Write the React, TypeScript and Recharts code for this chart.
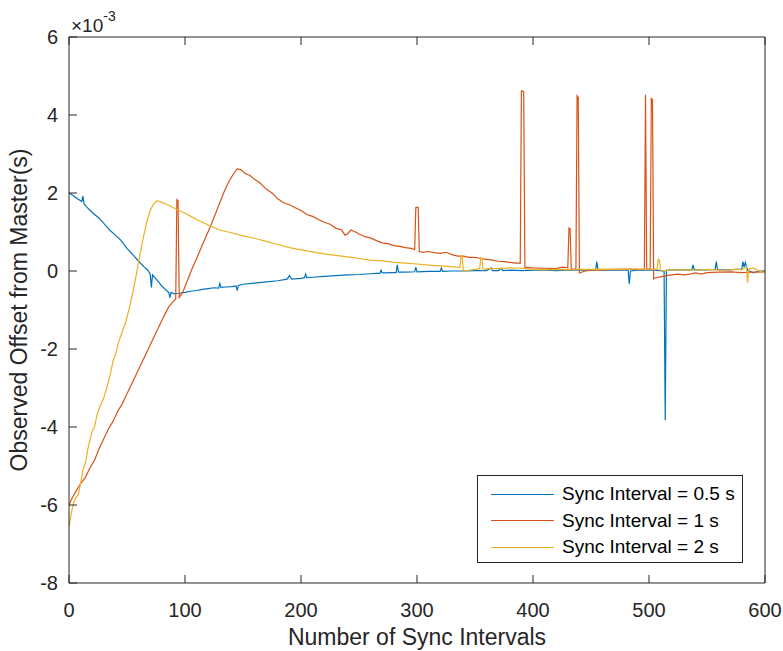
import React from 'react';
import { LineChart, Line, XAxis, YAxis, Legend } from 'recharts';

// x positions (sync interval index) and offsets (x 10^-3 s)
const blueX = [0,3,6,9,11,12,13,16,20,25,30,35,40,45,50,55,60,65,68,70,71,72,75,80,84,86,87,88,90,95,100,105,110,115,120,125,129,130,131,135,140,144,145,146,150,160,170,180,188,190,192,200,203,204,205,210,220,230,240,250,260,265,268,269,270,280,282,283,284,290,298,299,300,310,320,321,322,330,340,350,360,364,365,370,373,374,380,390,400,410,420,430,440,450,454,455,456,460,470,480,482,483,484,490,500,505,510,513,514,515,520,530,537,538,539,545,550,557,558,559,565,570,575,580,581,582,583,585,590,595,600];
const blueY = [2.0,1.95,1.88,1.82,1.78,1.92,1.72,1.62,1.5,1.38,1.22,1.05,0.92,0.78,0.58,0.42,0.25,0.1,0.02,-0.08,-0.42,-0.1,-0.2,-0.38,-0.5,-0.55,-0.68,-0.55,-0.58,-0.57,-0.55,-0.52,-0.5,-0.47,-0.45,-0.43,-0.44,-0.32,-0.42,-0.41,-0.4,-0.38,-0.5,-0.37,-0.34,-0.31,-0.28,-0.25,-0.21,-0.12,-0.21,-0.19,-0.17,-0.08,-0.17,-0.16,-0.14,-0.12,-0.1,-0.09,-0.07,-0.06,-0.06,0.02,-0.05,-0.04,-0.04,0.16,-0.03,-0.03,-0.02,0.1,-0.02,-0.01,-0.01,0.08,-0.01,0.0,0.0,0.01,0.01,0.08,0.01,0.01,0.07,0.01,0.02,0.01,0.02,0.02,0.01,0.02,0.02,0.02,0.02,0.24,0.03,0.02,0.02,0.02,0.02,-0.33,0.0,0.02,0.02,0.02,0.01,0.0,-3.83,0.02,0.03,0.03,0.03,0.16,0.03,0.03,0.03,0.04,0.24,0.04,0.03,0.03,0.04,0.04,0.24,0.1,0.22,0.02,-0.05,0.0,0.0];

const orangeX = [0,3,6,10,14,18,22,26,30,34,38,42,46,50,54,58,62,66,70,74,78,82,86,90,92,93,94,95,98,102,106,110,114,118,122,126,130,134,138,142,145,148,152,156,160,165,170,175,180,185,190,195,200,205,210,215,220,225,230,235,238,240,243,247,250,255,260,265,270,275,280,285,290,295,298,299,301,302,305,310,315,320,325,330,335,340,345,350,355,360,365,370,375,380,385,389,390,392,393,400,410,420,425,430,431,432,433,437,438,439,440,445,450,460,470,480,490,496,497,498,501,502,503,504,505,510,515,520,525,530,535,540,545,550,560,570,580,590,600];
const orangeY = [-6.0,-5.8,-5.65,-5.45,-5.3,-5.05,-4.85,-4.55,-4.3,-4.05,-3.85,-3.6,-3.4,-3.15,-2.9,-2.65,-2.4,-2.15,-1.9,-1.65,-1.4,-1.15,-0.92,-0.78,-0.72,1.83,1.8,-0.68,-0.55,-0.25,0.05,0.32,0.6,0.88,1.15,1.45,1.75,2.05,2.3,2.5,2.62,2.6,2.5,2.45,2.35,2.25,2.1,2.0,1.85,1.75,1.7,1.62,1.55,1.45,1.4,1.32,1.25,1.2,1.1,1.05,0.92,0.95,1.05,1.0,0.95,0.88,0.85,0.78,0.72,0.7,0.65,0.63,0.6,0.58,0.55,1.63,1.63,0.5,0.48,0.5,0.47,0.45,0.48,0.42,0.38,0.38,0.35,0.35,0.32,0.3,0.28,0.25,0.24,0.22,0.2,0.2,4.62,4.6,0.1,0.08,0.07,0.06,0.1,0.08,1.1,1.08,0.05,0.05,4.49,4.45,-0.05,0.0,0.02,0.03,0.04,0.05,0.04,0.05,4.52,0.05,0.05,4.42,4.4,-0.2,-0.18,-0.15,-0.12,-0.1,-0.08,-0.1,-0.08,-0.05,-0.08,-0.04,-0.03,-0.02,-0.04,-0.03,-0.02];

const yellowX = [0,2,4,6,8,10,12,14,16,18,20,22,24,27,30,33,36,38,40,43,46,49,52,55,58,61,64,67,70,73,76,80,85,90,95,100,105,110,115,120,130,140,150,160,170,180,190,200,210,220,230,240,250,260,270,280,290,300,310,320,330,337,338,339,340,345,350,354,355,356,357,360,370,380,390,400,410,420,430,440,450,460,470,480,490,500,507,508,509,510,520,530,540,550,560,570,575,580,584,585,586,590,595,600];
const yellowY = [-6.55,-6.2,-5.95,-5.8,-5.75,-5.45,-5.1,-4.95,-4.6,-4.35,-4.1,-4.0,-3.7,-3.45,-3.25,-2.95,-2.6,-2.3,-2.15,-1.8,-1.55,-1.3,-0.95,-0.55,-0.1,0.4,0.85,1.25,1.55,1.72,1.8,1.76,1.7,1.62,1.55,1.48,1.4,1.32,1.25,1.18,1.05,0.98,0.9,0.84,0.76,0.68,0.6,0.54,0.49,0.44,0.4,0.36,0.32,0.28,0.26,0.22,0.2,0.18,0.15,0.13,0.11,0.09,0.38,0.35,0.0,0.02,0.04,0.06,0.34,0.3,0.02,0.06,0.06,0.08,0.07,0.04,0.03,0.04,0.03,0.04,0.04,0.05,0.04,0.04,0.05,0.05,0.05,0.3,0.28,0.0,0.03,0.03,0.02,0.04,0.02,0.03,0.05,0.03,0.1,-0.3,0.05,0.08,0.0,-0.05];

const xTicks = [0, 100, 200, 300, 400, 500, 600];
const yTicks = [-8, -6, -4, -2, 0, 2, 4, 6];
const seriesNames = ['Sync Interval = 0.5 s', 'Sync Interval = 1 s', 'Sync Interval = 2 s'];
const seriesColors = ['#0072BD', '#D95319', '#EDB120'];

const allX = Array.from(new Set([...blueX, ...orangeX, ...yellowX])).sort((a, b) => a - b);
const table = allX.map((x) => {
  const row: any = { x };
  const bi = blueX.indexOf(x);
  const oi = orangeX.indexOf(x);
  const yi = yellowX.indexOf(x);
  if (bi >= 0) row.s05 = blueY[bi];
  if (oi >= 0) row.s1 = orangeY[oi];
  if (yi >= 0) row.s2 = yellowY[yi];
  return row;
});

const FONT = '"Liberation Sans", Arial, Helvetica, sans-serif';
const INK = '#262626';
const TL = 8;

const BottomTick = (p: any) => (
  <g>
    <line x1={p.x} y1={p.y} x2={p.x} y2={p.y - TL} stroke={INK} strokeWidth={1} />
    <text x={p.x} y={p.y + 34} textAnchor="middle" fontSize={20} fontFamily={FONT} fill={INK}>{p.payload.value}</text>
  </g>
);
const TopTick = (p: any) => (
  <line x1={p.x} y1={p.y} x2={p.x} y2={p.y + TL} stroke={INK} strokeWidth={1} />
);
const LeftTick = (p: any) => (
  <g>
    <line x1={p.x} y1={p.y} x2={p.x + TL} y2={p.y} stroke={INK} strokeWidth={1} />
    <text x={p.x - 11} y={p.y + 7} textAnchor="end" fontSize={20} fontFamily={FONT} fill={INK}>{p.payload.value}</text>
  </g>
);
const RightTick = (p: any) => (
  <line x1={p.x} y1={p.y} x2={p.x - TL} y2={p.y} stroke={INK} strokeWidth={1} />
);

const YLabel = (props: any) => {
  const vb = props.viewBox || { x: 0, y: 37, width: 69, height: 546 };
  const cx = vb.x + 27;
  const cy = vb.y + vb.height / 2;
  return (
    <text x={cx} y={cy} transform={`rotate(-90 ${cx} ${cy})`} textAnchor="middle" fontSize={23} fontFamily={FONT} fill={INK}>
      Observed Offset from Master(s)
    </text>
  );
};

const XLabel = (props: any) => {
  const vb = props.viewBox || { x: 69, y: 583, width: 696, height: 68 };
  return (
    <text x={vb.x + vb.width / 2} y={vb.y + vb.height - 6} textAnchor="middle" fontSize={23} fontFamily={FONT} fill={INK}>
      Number of Sync Intervals
    </text>
  );
};

const ExpLabel = (props: any) => {
  const vb = props.viewBox || { x: 69, y: 0, width: 696, height: 37 };
  return (
    <text x={vb.x + 2} y={vb.y + 32} fontSize={19} fontFamily={FONT} fill={INK}>
      ×10<tspan dy={-11} fontSize={14}>-3</tspan>
    </text>
  );
};

const LegendBox = (props: any) => {
  const payload = props.payload || [];
  return (
    <div style={{ width: 266, height: 88, boxSizing: 'border-box', border: `1px solid ${INK}`, background: '#fff', paddingTop: 5, fontFamily: FONT }}>
      {payload.map((e: any) => (
        <div key={e.value} style={{ height: 26.5, display: 'flex', alignItems: 'center' }}>
          <div style={{ marginLeft: 13, width: 63, height: 0, borderTop: `1.3px solid ${e.color}` }} />
          <span style={{ marginLeft: 8, fontSize: 19, color: '#000', lineHeight: '26px' }}>{e.value}</span>
        </div>
      ))}
    </div>
  );
};

export default function App() {
  return (
    <div style={{ position: 'absolute', left: 0, top: 0, width: 783, height: 651, background: '#fff' }}>
      <LineChart width={783} height={651} data={table} margin={{ top: 0, right: 0, bottom: 0, left: 0 }}>
        <XAxis xAxisId="b" dataKey="x" type="number" domain={[0, 600]} ticks={xTicks} orientation="bottom" height={68}
          tickSize={0} tickMargin={0} tickLine={false} tick={BottomTick} axisLine={{ stroke: INK, strokeWidth: 1 }}
          label={<XLabel />} />
        <XAxis xAxisId="t" dataKey="x" type="number" domain={[0, 600]} ticks={xTicks} orientation="top" height={37}
          tickSize={0} tickMargin={0} tickLine={false} tick={TopTick} axisLine={{ stroke: INK, strokeWidth: 1 }}
          label={<ExpLabel />} />
        <YAxis yAxisId="l" type="number" domain={[-8, 6]} ticks={yTicks} orientation="left" width={69}
          tickSize={0} tickMargin={0} tickLine={false} tick={LeftTick} axisLine={{ stroke: INK, strokeWidth: 1 }}
          label={<YLabel />} />
        <YAxis yAxisId="r" type="number" domain={[-8, 6]} ticks={yTicks} orientation="right" width={18}
          tickSize={0} tickMargin={0} tickLine={false} tick={RightTick} axisLine={{ stroke: INK, strokeWidth: 1 }} />
        <Line xAxisId="b" yAxisId="l" dataKey="s05" name={seriesNames[0]} stroke={seriesColors[0]} strokeWidth={1.2} dot={false} connectNulls isAnimationActive={false} />
        <Line xAxisId="b" yAxisId="l" dataKey="s1" name={seriesNames[1]} stroke={seriesColors[1]} strokeWidth={1.2} dot={false} connectNulls isAnimationActive={false} />
        <Line xAxisId="b" yAxisId="l" dataKey="s2" name={seriesNames[2]} stroke={seriesColors[2]} strokeWidth={1.2} dot={false} connectNulls isAnimationActive={false} />
        <Legend layout="vertical" align="center" verticalAlign="middle" content={<LegendBox />}
          wrapperStyle={{ position: 'absolute', left: 477, top: 475, width: 266, height: 88 }} />
      </LineChart>
    </div>
  );
}
